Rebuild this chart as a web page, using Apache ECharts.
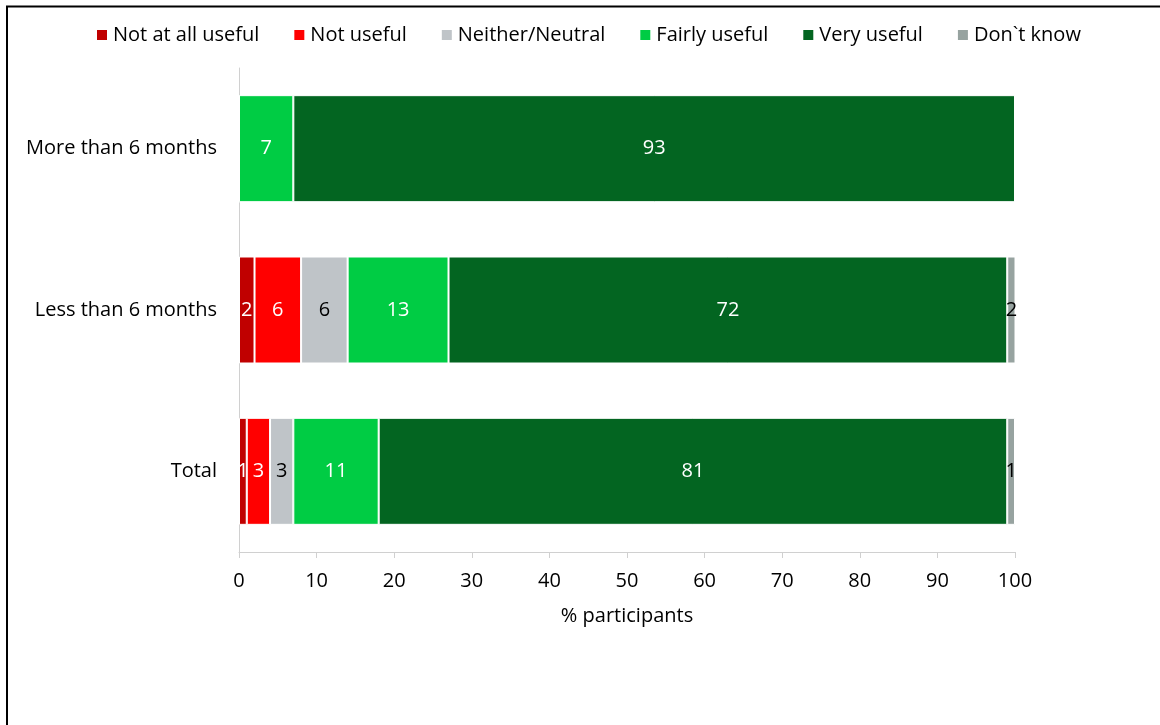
<!DOCTYPE html>
<html>
<head>
<meta charset="utf-8">
<script src="https://cdn.jsdelivr.net/npm/echarts@6/dist/echarts.min.js"></script>
<style>
  html, body { margin: 0; padding: 0; background: #ffffff; }
  #chart { width: 1160px; height: 725px; }
</style>
</head>
<body>
<div id="chart"></div>
<script>
// Duration groups (top to bottom) and response shares in % participants
const categories = ['Total', 'Less than 6 months', 'More than 6 months'];
const seriesNames = ['Not at all useful', 'Not useful', 'Neither/Neutral', 'Fairly useful', 'Very useful', 'Don`t know'];
const notAtAllUseful = [1, 2, 0];
const notUseful = [3, 6, 0];
const neutral = [3, 6, 0];
const fairlyUseful = [11, 13, 7];
const veryUseful = [81, 72, 93];
const dontKnow = [1, 2, 0];
const xTicks = [0, 10, 20, 30, 40, 50, 60, 70, 80, 90, 100];

const values = [notAtAllUseful, notUseful, neutral, fairlyUseful, veryUseful, dontKnow];
const colors = ['#C00000', '#FF0000', '#BFC4C8', '#00CC44', '#036521', '#97A3A0'];
const labelColors = ['#ffffff', '#ffffff', '#000000', '#ffffff', '#ffffff', '#000000'];

const FONT = 'Open Sans';
const FS = 20;

const chart = echarts.init(document.getElementById('chart'), null, { renderer: 'canvas' });

const series = seriesNames.map((name, i) => ({
  name: name,
  type: 'bar',
  stack: 'total',
  data: values[i],
  barWidth: 107,
  itemStyle: { color: colors[i], borderColor: '#ffffff', borderWidth: 1 },
  label: {
    show: true,
    position: 'inside',
    color: labelColors[i],
    fontFamily: FONT,
    fontSize: 20,
    formatter: p => (p.value ? String(p.value) : '')
  },
  emphasis: { disabled: true }
}));

chart.setOption({
  animation: false,
  backgroundColor: '#ffffff',
  textStyle: { fontFamily: FONT },
  legend: {
    top: 20,
    left: 90,
    icon: 'rect',
    itemWidth: 12,
    itemHeight: 12,
    itemGap: 33,
    textStyle: { fontFamily: FONT, fontSize: FS, color: '#000000' },
    data: seriesNames
  },
  grid: { left: 239, right: 145, top: 68, bottom: 173, containLabel: false },
  xAxis: {
    type: 'value',
    min: 0,
    max: 100,
    interval: 10,
    name: '% participants',
    nameLocation: 'middle',
    nameGap: 54,
    nameTextStyle: { fontFamily: FONT, fontSize: FS, color: '#000000' },
    axisLine: { show: true, lineStyle: { color: '#D0D0D0', width: 1 } },
    axisTick: { show: true, length: 6, lineStyle: { color: '#D0D0D0' } },
    axisLabel: {
      fontFamily: FONT, fontSize: FS, color: '#000000', margin: 19,
      formatter: v => (xTicks.indexOf(v) >= 0 ? String(v) : '')
    },
    splitLine: { show: false }
  },
  yAxis: {
    type: 'category',
    data: categories,
    axisLine: { show: true, lineStyle: { color: '#D0D0D0', width: 1 } },
    axisTick: { show: false },
    axisLabel: { fontFamily: FONT, fontSize: FS, color: '#000000', margin: 22 },
    splitLine: { show: false }
  },
  graphic: [
    // frame edges around the plot area
    { type: 'line', shape: { x1: 6, y1: 6.5, x2: 1160, y2: 6.5 }, style: { stroke: '#000000', lineWidth: 2 }, silent: true },
    { type: 'line', shape: { x1: 7, y1: 6, x2: 7, y2: 725 }, style: { stroke: '#000000', lineWidth: 2 }, silent: true }
  ],
  series: series
});
</script>
</body>
</html>
